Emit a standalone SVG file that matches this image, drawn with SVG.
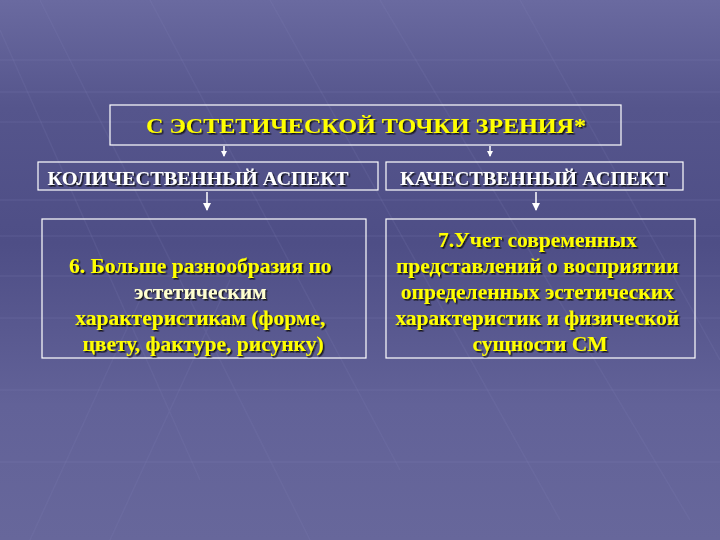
<svg xmlns="http://www.w3.org/2000/svg" width="720" height="540" viewBox="0 0 720 540">
<defs>
<linearGradient id="bg" x1="0" y1="0" x2="0" y2="1">
<stop offset="0" stop-color="#6a6aa0"/>
<stop offset="0.2" stop-color="#55558c"/>
<stop offset="0.45" stop-color="#4e4e86"/>
<stop offset="0.75" stop-color="#626298"/>
<stop offset="1" stop-color="#67679b"/>
</linearGradient>
<filter id="sh" x="-5%" y="-30%" width="110%" height="160%">
<feDropShadow dx="1.5" dy="1.5" stdDeviation="0.6" flood-color="#111" flood-opacity="0.9"/>
</filter>
<marker id="ah" markerWidth="8" markerHeight="8" refX="4" refY="7" markerUnits="userSpaceOnUse" viewBox="0 0 8 8">
<path d="M0,0 L8,0 L4,8 Z" fill="#ffffff"/>
</marker>
<marker id="ahs" markerWidth="6" markerHeight="6" refX="3" refY="5" markerUnits="userSpaceOnUse" viewBox="0 0 6 6">
<path d="M0,0 L6,0 L3,6 Z" fill="#ffffff"/>
</marker>
</defs>
<style>
.box{fill:none;stroke:#ffffff;stroke-width:1.2}
.t{font-family:"Liberation Serif","Times New Roman",serif;font-weight:bold;text-anchor:middle}
.y{fill:#ffff00}
.w{fill:#ffffff}
.grid{stroke:#8888bb;stroke-width:1.5;opacity:0.15;fill:none}
.con{stroke:#ffffff;stroke-width:1.5;fill:none}
</style>
<rect width="720" height="540" fill="url(#bg)"/>
<g id="background-grid">
<path class="grid" d="M0,60 H720 M0,92 H720 M0,122 H720 M0,200 H720 M0,236 H720 M0,276 H720 M0,318 H720 M0,390 H720 M0,462 H720"/>
<path class="grid" d="M0,30 L200,480 M40,0 L310,540 M150,0 L400,470 M270,0 L560,520 M380,0 L690,520 M520,0 L720,360 M30,540 L140,300 M110,540 L230,280"/>
</g>
<g id="connectors">
<line class="con" x1="224" y1="146" x2="224" y2="156" marker-end="url(#ahs)"/>
<line class="con" x1="490" y1="146" x2="490" y2="156" marker-end="url(#ahs)"/>
<line class="con" x1="207" y1="192" x2="207" y2="210" marker-end="url(#ah)"/>
<line class="con" x1="536" y1="192" x2="536" y2="210" marker-end="url(#ah)"/>
</g>
<g id="title">
<rect class="box" x="110" y="105" width="511" height="40" stroke-width="2"/>
<text class="t y" x="366" y="133" font-size="22" textLength="440" lengthAdjust="spacingAndGlyphs" filter="url(#sh)">С ЭСТЕТИЧЕСКОЙ ТОЧКИ ЗРЕНИЯ*</text>
</g>
<g id="quant">
<rect class="box" x="38" y="162" width="340" height="28"/>
<text class="t w" x="198" y="185" font-size="19" textLength="301" lengthAdjust="spacingAndGlyphs" filter="url(#sh)">КОЛИЧЕСТВЕННЫЙ АСПЕКТ</text>
</g>
<g id="qual">
<rect class="box" x="386" y="162" width="297" height="28"/>
<text class="t w" x="534" y="185" font-size="19" textLength="268" lengthAdjust="spacingAndGlyphs" filter="url(#sh)">КАЧЕСТВЕННЫЙ АСПЕКТ</text>
</g>
<g id="item6">
<rect class="box" x="42" y="219" width="324" height="139"/>
<text class="t y" x="203" font-size="21.5" filter="url(#sh)">
<tspan x="203" y="273">6. Больше разнообразия по</tspan>
<tspan x="203" y="299" fill="#ffffd0">эстетическим</tspan>
<tspan x="203" y="325">характеристикам (форме,</tspan>
<tspan x="203" y="351">цвету, фактуре, рисунку)</tspan>
</text>
</g>
<g id="item7">
<rect class="box" x="386" y="219" width="309" height="139"/>
<text class="t y" x="540" font-size="21.5" filter="url(#sh)">
<tspan x="540" y="247">7.Учет современных</tspan>
<tspan x="540" y="273">представлений о восприятии</tspan>
<tspan x="540" y="299">определенных эстетических</tspan>
<tspan x="540" y="325">характеристик и физической</tspan>
<tspan x="540" y="351">сущности СМ</tspan>
</text>
</g>
</svg>
